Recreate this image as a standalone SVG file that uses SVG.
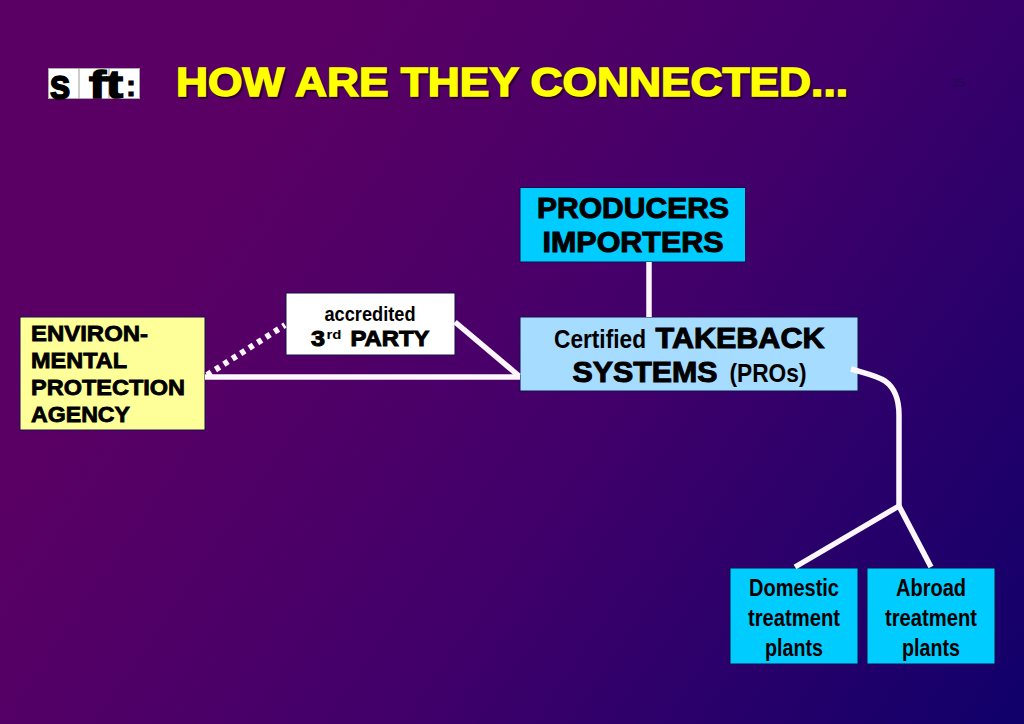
<svg xmlns="http://www.w3.org/2000/svg" width="1024" height="724" viewBox="0 0 1024 724">
<style>
text{font-family:"Liberation Sans",Arial,sans-serif;font-weight:700;fill:#000;text-anchor:middle;stroke-linejoin:miter}
.k{stroke:#000;stroke-width:1px}
.kl{stroke:#000;stroke-width:.8px;text-anchor:start}
.n{font-size:24px}
.m{font-size:26px}
.box{stroke:#14104a;stroke-width:1}
.c{fill:none;stroke:#fdf6fd;stroke-width:5.500}
</style>
<defs>
<linearGradient id="bg" gradientUnits="userSpaceOnUse" x1="230" y1="180" x2="1024" y2="724">
<stop offset="0" stop-color="#5a0064"/><stop offset=".45" stop-color="#42006a"/><stop offset="1" stop-color="#10006a"/>
</linearGradient>
</defs>
<rect width="1024" height="724" fill="url(#bg)"/>
<g id="logo">
<rect x="48.500" y="68.500" width="91" height="30" fill="#fff" stroke="#aaa"/>
<path d="M79 68v31M109 68v31" stroke="#999" fill="none"/>
<text x="60" y="99" font-size="42" class="k" textLength="21" lengthAdjust="spacingAndGlyphs" style="stroke-width:1.500px">s</text>
<text x="106" y="98" font-size="39" class="k" textLength="34" lengthAdjust="spacingAndGlyphs" style="stroke-width:1.500px">ft</text>
<text x="131" y="96" font-size="30" class="k">:</text>
</g>
<g id="title">
<text x="514" y="98" font-size="40" textLength="672" lengthAdjust="spacingAndGlyphs" style="fill:#2a0030;stroke:#2a0030;stroke-width:1.500px">HOW ARE THEY CONNECTED...</text>
<text x="512" y="96" font-size="40" textLength="672" lengthAdjust="spacingAndGlyphs" style="fill:#ff0;stroke:#ff0;stroke-width:1.500px">HOW ARE THEY CONNECTED...</text>
</g>
<text id="page" x="958" y="87" font-size="12" style="fill:#2a0658">35</text>
<g id="producers">
<rect class="box" x="520" y="187.500" width="225.500" height="74.500" fill="#00ccff"/>
<text class="k" x="633" y="218" font-size="29" textLength="192" lengthAdjust="spacingAndGlyphs">PRODUCERS</text>
<text class="k" x="633" y="252" font-size="29" textLength="181" lengthAdjust="spacingAndGlyphs">IMPORTERS</text>
</g>
<g id="takeback">
<rect class="box" x="520" y="317" width="338" height="74" fill="#a6dcff"/>
<text x="600" y="348" class="m" textLength="92" lengthAdjust="spacingAndGlyphs">Certified</text>
<text class="k" x="740" y="348" font-size="29" textLength="169" lengthAdjust="spacingAndGlyphs">TAKEBACK</text>
<text class="k" x="645" y="382" font-size="29" textLength="145" lengthAdjust="spacingAndGlyphs">SYSTEMS</text>
<text x="768" y="382" class="m" textLength="77" lengthAdjust="spacingAndGlyphs">(PROs)</text>
</g>
<g id="third-party">
<rect class="box" x="286" y="293" width="169" height="62" fill="#fff"/>
<text x="370" y="321" font-size="21" textLength="91" lengthAdjust="spacingAndGlyphs">accredited</text>
<text class="k" x="318" y="346" font-size="22" textLength="14" lengthAdjust="spacingAndGlyphs">3</text>
<text x="334" y="339" font-size="13" textLength="15" lengthAdjust="spacingAndGlyphs">rd</text>
<text class="k" x="390" y="346" font-size="22" textLength="79" lengthAdjust="spacingAndGlyphs">PARTY</text>
</g>
<g id="epa">
<rect class="box" x="20" y="317" width="185" height="113" fill="#ffff99"/>
<text class="kl" x="31" y="341" font-size="22" textLength="117" lengthAdjust="spacingAndGlyphs">ENVIRON-</text>
<text class="kl" x="31" y="368" font-size="22" textLength="96" lengthAdjust="spacingAndGlyphs">MENTAL</text>
<text class="kl" x="31" y="395" font-size="22" textLength="154" lengthAdjust="spacingAndGlyphs">PROTECTION</text>
<text class="kl" x="31" y="422" font-size="22" textLength="99" lengthAdjust="spacingAndGlyphs">AGENCY</text>
</g>
<g id="domestic">
<rect class="box" x="730" y="568" width="128" height="96" fill="#00ccff"/>
<text class="n" x="794" y="596" textLength="90" lengthAdjust="spacingAndGlyphs">Domestic</text>
<text class="n" x="794" y="626" textLength="92" lengthAdjust="spacingAndGlyphs">treatment</text>
<text class="n" x="794" y="656" textLength="58" lengthAdjust="spacingAndGlyphs">plants</text>
</g>
<g id="abroad">
<rect class="box" x="867" y="568" width="128" height="96" fill="#00ccff"/>
<text class="n" x="931" y="596" textLength="70" lengthAdjust="spacingAndGlyphs">Abroad</text>
<text class="n" x="931" y="626" textLength="92" lengthAdjust="spacingAndGlyphs">treatment</text>
<text class="n" x="931" y="656" textLength="58" lengthAdjust="spacingAndGlyphs">plants</text>
</g>
<g id="connectors">
<path class="c" d="M649 262V317"/>
<path class="c" d="M205 377H520"/>
<path class="c" d="M455 322L519 376"/>
<path class="c" d="M207 375L285 325" stroke-dasharray="5 5" style="stroke-width:6"/>
<path class="c" d="M851 369C868 374 878 376 885 381C895 388 899 400 899 415V506"/>
<path class="c" d="M899 506L795 567"/>
<path class="c" d="M899 506L931 567"/>
</g>
</svg>
